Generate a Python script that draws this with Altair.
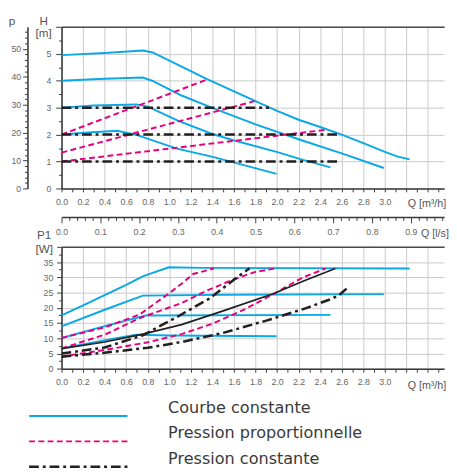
import altair as alt
import pandas as pd

# ---------------- data ----------------
# Top panel : head H [m] against flow Q [m3/h]
top_cc1_q = [0.0, 0.4, 0.755, 0.845, 1.1, 1.355, 1.6, 1.8, 2.0, 2.2, 2.4, 2.6, 2.8, 3.0, 3.12, 3.23]
top_cc1_h = [4.95, 5.03, 5.12, 5.05, 4.55, 4.05, 3.6, 3.24, 2.88, 2.55, 2.28, 2.0, 1.68, 1.36, 1.18, 1.08]
top_cc2_q = [0.0, 0.4, 0.755, 0.84, 1.114, 1.393, 1.8, 2.24, 2.6, 2.99]
top_cc2_h = [4.0, 4.07, 4.12, 4.0, 3.45, 3.0, 2.38, 1.77, 1.3, 0.76]
top_cc3_q = [0.0, 0.3, 0.695, 0.8, 1.09, 1.393, 1.595, 1.995, 2.24, 2.495]
top_cc3_h = [3.0, 3.08, 3.12, 3.04, 2.5, 2.03, 1.79, 1.36, 1.06, 0.78]
top_cc4_q = [0.0, 0.25, 0.515, 0.695, 1.07, 1.393, 1.595, 1.995]
top_cc4_h = [2.0, 2.08, 2.14, 1.99, 1.48, 1.18, 0.97, 0.54]

top_pp1_q = [0.0, 1.355]
top_pp1_h = [2.0, 4.05]
top_pp2_q = [0.0, 1.79]
top_pp2_h = [1.33, 3.24]
top_pp3_q = [0.0, 2.44]
top_pp3_h = [1.0, 2.17]

top_pc1_q = [0.0, 1.925]
top_pc1_h = [3.0, 3.0]
top_pc2_q = [0.0, 2.585]
top_pc2_h = [2.0, 2.0]
top_pc3_q = [0.0, 2.585]
top_pc3_h = [1.0, 1.0]

# Bottom panel : input power P1 [W] against flow Q [m3/h]
bot_cc1_q = [0.0, 0.2, 0.4, 0.6, 0.754, 0.995, 1.3, 3.23]
bot_cc1_p = [17.5, 20.8, 24.2, 27.5, 30.3, 33.3, 33.1, 32.9]
bot_cc2_q = [0.0, 0.394, 0.754, 1.5, 2.99]
bot_cc2_p = [13.9, 19.3, 24.0, 24.3, 24.5]
bot_cc3_q = [0.0, 0.4, 0.78, 2.495]
bot_cc3_p = [10.1, 14.0, 17.5, 17.7]
bot_cc4_q = [0.0, 0.484, 0.694, 1.0, 1.995]
bot_cc4_p = [6.7, 9.9, 11.2, 10.9, 10.7]

bot_pp1_q = [0.0, 0.4, 0.724, 0.995, 1.114, 1.22, 1.414]
bot_pp1_p = [10.1, 13.6, 17.8, 24.7, 27.9, 31.1, 32.9]
bot_pp2_q = [0.0, 0.4, 0.724, 1.114, 1.37, 1.595, 1.79, 1.98]
bot_pp2_p = [6.7, 11.2, 16.6, 21.6, 26.0, 29.3, 31.7, 32.9]
bot_pp3_q = [0.0, 0.4, 0.8, 1.114, 1.4, 1.7, 1.97, 2.24, 2.45]
bot_pp3_p = [4.0, 6.2, 8.7, 11.4, 14.8, 19.5, 24.6, 30.0, 32.9]

bot_pc1_q = [0.0, 0.4, 0.754, 1.07, 1.37, 1.614, 1.745]
bot_pc1_p = [5.0, 7.0, 11.0, 17.0, 23.0, 29.6, 33.0]
bot_pc2_q = [0.0, 0.4, 0.8, 1.114, 1.5, 1.9, 2.27, 2.51, 2.58, 2.645]
bot_pc2_p = [4.0, 5.3, 6.9, 8.8, 11.8, 15.8, 19.9, 23.0, 24.3, 26.3]

bot_solid_q = [0.0, 0.4, 0.754, 1.114, 1.5, 1.97, 2.24, 2.54]
bot_solid_p = [6.6, 8.8, 11.4, 14.5, 19.0, 24.7, 28.7, 32.9]

legend_labels = ["Courbe constante", "Pression proportionnelle", "Pression constante"]
legend_kinds = ["cc", "pp", "pc"]

# tick values
q_ticks = [round(i * 0.1, 1) for i in range(36)]
h_ticks = [i * 0.5 for i in range(13)]
p_kpa_ticks = [i * 2 for i in range(29)]
p1_ticks = [i * 2.5 for i in range(17)]
ls_ticks = [round(i * 0.02, 2) for i in range(50)]

# ---------------- styling ----------------
FONT = "Liberation Sans"
LEG_FONT = "DejaVu Sans"
BLUE = "#0AA8E6"
PINK = "#E5007E"
BLACK = "#231F20"
GRID = "#c9c9c9"
AXIS = "#3a3a3a"
LABEL = "#666666"
TITLE = "#555555"

STY = {
    "cc": dict(color=BLUE, strokeWidth=2),
    "pp": dict(color=PINK, strokeWidth=2, strokeDash=[6, 3.5]),
    "pc": dict(color=BLACK, strokeWidth=2.6, strokeDash=[10, 4, 3, 4]),
    "solid": dict(color=BLACK, strokeWidth=1.8),
}

W = 393
H_TOP = 166
H_BOT = 125.3
QMAX = 3.55


def frame(curves, vname):
    rows = []
    for i, (qs, vs) in enumerate(curves):
        for j, (q, v) in enumerate(zip(qs, vs)):
            rows.append({"q": q, vname: v, "cid": i, "ord": j})
    return pd.DataFrame(rows)


def xs():
    return alt.Scale(domain=[0, QMAX], nice=False, zero=False)


def q_axis(title_y):
    return alt.Axis(
        values=q_ticks,
        labelExpr="(round(datum.value * 10) % 2 == 0 && datum.value < 3.05) ? format(datum.value, '.1f') : ''",
        labelOverlap=False, labelFlush=False,
        grid=True,
        gridOpacity={"condition": {"test": "round(datum.value * 10) % 2 == 0", "value": 1}, "value": 0},
        gridColor=GRID, gridWidth=1,
        tickSize=3.5, tickColor=AXIS, tickWidth=1,
        domainColor=AXIS, domainWidth=1.6,
        labelFont=FONT, labelFontSize=9, labelColor=LABEL, labelPadding=6,
        title="Q [m³/h]", titleFont=FONT, titleFontSize=11, titleFontWeight="normal",
        titleColor=TITLE, titleAngle=0, titleX=355, titleY=title_y,
        titleAlign="left", titleBaseline="alphabetic",
    )


def border_axis():
    return alt.Axis(orient="top", domain=True, domainColor="#4a4a4a", domainWidth=1.5,
                    ticks=False, labels=False, grid=False, title=None)


def line_layer(df, kind, yfield, ydomain, xaxis=None, yaxis=None):
    return alt.Chart(df).mark_line(clip=True, strokeCap="butt", **STY[kind]).encode(
        x=alt.X("q:Q", scale=xs(), axis=xaxis),
        y=alt.Y(f"{yfield}:Q", scale=alt.Scale(domain=ydomain, nice=False, zero=False), axis=yaxis),
        detail="cid:N",
        order="ord:Q",
    )


# ---------------- top panel ----------------
h_axis = alt.Axis(
    values=h_ticks,
    labelExpr="(datum.value % 1 == 0 && datum.value < 5.5) ? format(datum.value, 'd') : ''",
    labelOverlap=False, labelFlush=False,
    grid=True,
    gridOpacity={"condition": {"test": "datum.value % 1 == 0", "value": 1}, "value": 0},
    gridColor=GRID, gridWidth=1,
    tickSize={"condition": {"test": "datum.value % 1 == 0", "value": 6}, "value": 3},
    tickColor=AXIS, domainColor=AXIS, domainWidth=1.6,
    labelFont=FONT, labelFontSize=9, labelColor=LABEL, labelPadding=5,
    title=["H", "[m]"], titleFont=FONT, titleFontSize=12, titleFontWeight="normal",
    titleColor=TITLE, titleAngle=0, titleX=-18.8, titleY=-2.7, titleAlign="center",
    titleBaseline="alphabetic", titleLineHeight=12.5,
)

p_axis = alt.Axis(
    orient="left", offset=35,
    values=p_kpa_ticks,
    labelExpr="datum.value % 10 == 0 ? format(datum.value, 'd') : ''",
    labelOverlap=False, labelFlush=False, grid=False,
    tickSize={"condition": {"test": "datum.value % 10 == 0", "value": 5}, "value": 3},
    tickColor=AXIS, domainColor=AXIS, domainWidth=1.6,
    labelFont=FONT, labelFontSize=9, labelColor=LABEL, labelPadding=2,
    title="p", titleFont=FONT, titleFontSize=12, titleFontWeight="normal",
    titleColor=TITLE, titleAngle=0, titleX=-16.3, titleY=-2.7, titleAlign="center",
    titleBaseline="alphabetic",
)

ls_axis = alt.Axis(
    orient="bottom", offset=29.3,
    values=ls_ticks,
    labelExpr="(round(datum.value * 100) % 10 == 0) ? format(datum.value, '.1f') : ''",
    labelOverlap=False, labelFlush=False, grid=False,
    tickSize={"condition": {"test": "round(datum.value * 100) % 10 == 0", "value": 6}, "value": 3.5},
    tickColor=AXIS, domainColor=AXIS, domainWidth=1.6,
    labelFont=FONT, labelFontSize=9, labelColor=LABEL, labelPadding=5,
    title="Q [l/s]", titleFont=FONT, titleFontSize=11, titleFontWeight="normal",
    titleColor=TITLE, titleAngle=0, titleX=368.7, titleY=20, titleAlign="left",
    titleBaseline="alphabetic",
)

top_cc = frame([(top_cc1_q, top_cc1_h), (top_cc2_q, top_cc2_h), (top_cc3_q, top_cc3_h), (top_cc4_q, top_cc4_h)], "h")
top_pp = frame([(top_pp1_q, top_pp1_h), (top_pp2_q, top_pp2_h), (top_pp3_q, top_pp3_h)], "h")
top_pc = frame([(top_pc1_q, top_pc1_h), (top_pc2_q, top_pc2_h), (top_pc3_q, top_pc3_h)], "h")

p_layer = alt.Chart(pd.DataFrame({"p": [0, 50]})).mark_point(opacity=0).encode(
    y=alt.Y("p:Q", scale=alt.Scale(domain=[0, 57.9], nice=False, zero=False), axis=p_axis)
)
ls_layer = alt.Chart(pd.DataFrame({"ls": [0, 0.9]})).mark_point(opacity=0).encode(
    x=alt.X("ls:Q", scale=alt.Scale(domain=[0, QMAX / 3.6], nice=False, zero=False), axis=ls_axis)
)

top = alt.layer(
    line_layer(top_cc, "cc", "h", [0, 6], xaxis=q_axis(18.3), yaxis=h_axis),
    line_layer(top_pp, "pp", "h", [0, 6], xaxis=border_axis()),
    line_layer(top_pc, "pc", "h", [0, 6]),
    p_layer,
    ls_layer,
).resolve_scale(x="independent", y="independent").properties(width=W, height=H_TOP)

# ---------------- bottom panel ----------------
p1_axis = alt.Axis(
    values=p1_ticks,
    labelExpr="(datum.value % 5 == 0 && datum.value < 37) ? format(datum.value, 'd') : ''",
    labelOverlap=False, labelFlush=False,
    grid=True,
    gridOpacity={"condition": {"test": "datum.value % 5 == 0", "value": 1}, "value": 0},
    gridColor=GRID, gridWidth=1,
    tickSize={"condition": {"test": "datum.value % 5 == 0", "value": 5}, "value": 3},
    tickColor=AXIS, domainColor=AXIS, domainWidth=1.6,
    labelFont=FONT, labelFontSize=9, labelColor=LABEL, labelPadding=4,
    title=["P1", "[W]"], titleFont=FONT, titleFontSize=12, titleFontWeight="normal",
    titleColor=TITLE, titleAngle=0, titleX=-18.3, titleY=-8.7, titleAlign="center",
    titleBaseline="alphabetic", titleLineHeight=15,
)

bot_cc = frame([(bot_cc1_q, bot_cc1_p), (bot_cc2_q, bot_cc2_p), (bot_cc3_q, bot_cc3_p), (bot_cc4_q, bot_cc4_p)], "w")
bot_pp = frame([(bot_pp1_q, bot_pp1_p), (bot_pp2_q, bot_pp2_p), (bot_pp3_q, bot_pp3_p)], "w")
bot_pc = frame([(bot_pc1_q, bot_pc1_p), (bot_pc2_q, bot_pc2_p)], "w")
bot_solid = frame([(bot_solid_q, bot_solid_p)], "w")

bottom = alt.layer(
    line_layer(bot_cc, "cc", "w", [0, 40], xaxis=q_axis(20), yaxis=p1_axis),
    line_layer(bot_pp, "pp", "w", [0, 40], xaxis=border_axis()),
    line_layer(bot_pc, "pc", "w", [0, 40]),
    line_layer(bot_solid, "solid", "w", [0, 40]),
).resolve_scale(x="independent", y="independent").properties(width=W, height=H_BOT)

# ---------------- legend ----------------
leg_df = pd.DataFrame({"label": legend_labels, "kind": legend_kinds})
leg_y = alt.Y("label:N", scale=alt.Scale(type="point", domain=legend_labels, range=[-12.2, 39.8], padding=0),
              axis=None)
leg_rules = [
    alt.Chart(leg_df[leg_df["kind"] == k]).mark_rule(strokeCap="butt", **STY[k]).encode(
        x=alt.value(-33.3), x2=alt.value(67.7), y=leg_y
    )
    for k in legend_kinds
]
leg_text = alt.Chart(leg_df).mark_text(
    align="left", baseline="alphabetic", dy=-3, font=LEG_FONT, fontSize=16.5, color="#3a3a3a"
).encode(x=alt.value(109.4), y=leg_y, text="label:N")
legend = alt.layer(*leg_rules, leg_text).properties(width=W, height=40)

chart = alt.vconcat(top, bottom, legend, spacing=60, bounds="flush").properties(
    padding=0
).configure_view(stroke=None)

chart.save("out.html", embed_options={"renderer": "svg", "actions": False})
